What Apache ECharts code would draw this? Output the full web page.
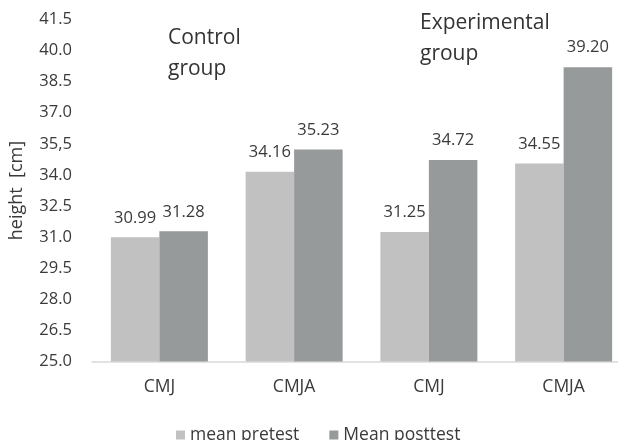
<!DOCTYPE html>
<html>
<head>
<meta charset="utf-8">
<script src="https://cdn.jsdelivr.net/npm/echarts@6/dist/echarts.min.js"></script>
<style>
  html, body { margin: 0; padding: 0; background: #ffffff; overflow: hidden; }
  /* the plot runs slightly past the right edge of the page */
  #chart { width: 631px; height: 440px; }
</style>
</head>
<body>
<div id="chart"></div>
<script>
// Jump height: pre/post test means for the control and experimental groups
const categories = ['CMJ', 'CMJA', 'CMJ', 'CMJA'];
const pretest = [30.99, 34.16, 31.25, 34.55];
const posttest = [31.28, 35.23, 34.72, 39.20];
const seriesNames = ['mean pretest', 'Mean posttest'];
const yTickLabels = ['25.0', '26.5', '28.0', '29.5', '31.0', '32.5', '34.0', '35,5', '37.0', '38.5', '40.0', '41.5'];
const groupNotes = ['Control\ngroup', 'Experimental\ngroup'];

const FONT = 'Open Sans';
const TEXT = '#3a3a3a';
const yMin = 25, yStep = 1.5;
const yMax = yMin + yStep * (yTickLabels.length - 1);

const chart = echarts.init(document.getElementById('chart'));

const labelStyle = {
  show: true,
  position: 'top',
  distance: 11,
  color: TEXT,
  fontFamily: FONT,
  fontSize: 16.5,
  formatter: p => p.value.toFixed(2)
};

chart.setOption({
  animation: false,
  backgroundColor: '#ffffff',
  grid: { left: 92, top: 19.5, right: 0, bottom: 78.5 },
  legend: {
    left: 176,
    top: 426,
    icon: 'rect',
    itemWidth: 9,
    itemHeight: 9,
    itemGap: 30,
    padding: 0,
    textStyle: { color: TEXT, fontFamily: FONT, fontSize: 17.5 },
    data: seriesNames
  },
  xAxis: {
    type: 'category',
    data: categories,
    axisLine: { lineStyle: { color: '#d9d9d9', width: 1.5 } },
    axisTick: { show: false },
    axisLabel: { color: TEXT, fontFamily: FONT, fontSize: 17.5, margin: 17 }
  },
  yAxis: {
    type: 'value',
    min: yMin,
    max: yMax,
    interval: yStep,
    name: 'height  [cm]',
    nameLocation: 'middle',
    nameGap: 66,
    nameTextStyle: { color: TEXT, fontFamily: FONT, fontSize: 18 },
    axisLine: { show: false },
    axisTick: { show: false },
    splitLine: { show: false },
    axisLabel: {
      color: TEXT,
      fontFamily: FONT,
      fontSize: 16.5,
      margin: 20,
      formatter: v => yTickLabels[Math.round((v - yMin) / yStep)]
    }
  },
  graphic: [
    {
      type: 'text', left: 168, top: 23,
      style: { text: groupNotes[0], fill: '#333333', font: '21px "' + FONT + '"', lineHeight: 31 }
    },
    {
      type: 'text', left: 420, top: 8,
      style: { text: groupNotes[1], fill: '#333333', font: '21px "' + FONT + '"', lineHeight: 31 }
    }
  ],
  series: [
    {
      name: seriesNames[0],
      type: 'bar',
      data: pretest,
      barWidth: 48.5,
      barGap: '0%',
      itemStyle: { color: '#c0c1c0' },
      label: labelStyle
    },
    {
      name: seriesNames[1],
      type: 'bar',
      data: posttest,
      barWidth: 48.5,
      barGap: '0%',
      itemStyle: { color: '#969a9a' },
      label: labelStyle
    }
  ]
});
</script>
</body>
</html>
